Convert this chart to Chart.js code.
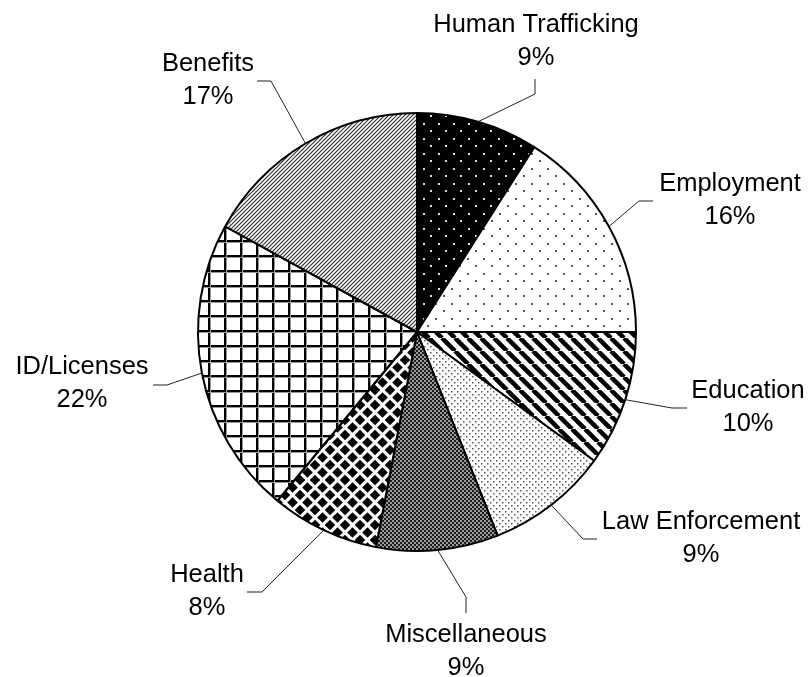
<!DOCTYPE html>
<html>
<head>
<meta charset="utf-8">
<script src="https://cdn.jsdelivr.net/npm/chart.js@4"></script>
<style>
  html, body { margin: 0; padding: 0; background: #fff; }
  #wrap { width: 808px; height: 677px; }
</style>
</head>
<body>
<div id="wrap"><canvas id="pie" width="808" height="677"></canvas></div>
<script>
// --- dane wykresu ---
const categories = ['Human Trafficking', 'Employment', 'Education', 'Law Enforcement',
                    'Miscellaneous', 'Health', 'ID/Licenses', 'Benefits'];
const shares = [9, 16, 10, 9, 9, 8, 22, 17];
const shareLabels = ['9%', '16%', '10%', '9%', '9%', '8%', '22%', '17%'];

// położenie opisów względem środka koła: [kolanoX, kolanoY, koniecX, koniecY, tekstX, linia bazowa tekstu]
const labelLayout = [
    [118, -238, 118, -253, 119, -300],
    [222, -131, 236, -131, 313, -141],
    [255, 76, 270, 76, 331, 66],
    [166, 207, 180, 207, 284, 197],
    [49, 265, 49, 281, 49, 310],
    [-155, 260, -170, 260, -210, 250],
    [-250, 53, -264, 53, -335, 42],
    [-146, -251, -160, -251, -209, -261]
];

const canvas = document.getElementById('pie');
const ctx = canvas.getContext('2d');

function makePattern(w, h, draw) {
    const c = document.createElement('canvas');
    c.width = w;
    c.height = h;
    const g = c.getContext('2d');
    g.fillStyle = '#fff';
    g.fillRect(0, 0, w, h);
    draw(g, w, h);
    return ctx.createPattern(c, 'repeat');
}

function diamond(g, cx, cy, r) {
    g.beginPath();
    g.moveTo(cx, cy - r);
    g.lineTo(cx + r, cy);
    g.lineTo(cx, cy + r);
    g.lineTo(cx - r, cy);
    g.closePath();
    g.fill();
}

// Wzory wypełnienia (czarno-białe jak w oryginale)
const patterns = [
    makePattern(15, 15, g => { // czarne tło, białe kropki
        g.fillStyle = '#000'; g.fillRect(0, 0, 15, 15);
        g.fillStyle = '#ddd'; g.fillRect(3, 3, 2, 2); g.fillRect(10, 10, 2, 2);
    }),
    makePattern(16, 15, g => { // rzadkie szare kropki
        g.fillStyle = '#555'; g.fillRect(3, 3, 2, 2); g.fillRect(11, 10, 2, 2);
    }),
    makePattern(13, 13, g => { // szerokie ukośne pasy
        g.strokeStyle = '#000'; g.lineWidth = 4.5;
        g.beginPath();
        [-13, 0, 13].forEach(k => { g.moveTo(k, 0); g.lineTo(k + 13, 13); });
        g.stroke();
    }),
    makePattern(6, 6, g => { // gęste kropki
        g.fillStyle = '#555';
        g.fillRect(1, 1, 1.5, 1.5); g.fillRect(4, 4, 1.5, 1.5);
    }),
    makePattern(4, 4, g => { // ciemna kratka
        g.fillStyle = '#1c1c1c'; g.fillRect(0, 0, 4, 4);
        g.fillStyle = '#9a9a9a'; g.fillRect(0, 0, 2, 2); g.fillRect(2, 2, 2, 2);
    }),
    makePattern(15, 15, g => { // duże romby
        g.fillStyle = '#000';
        diamond(g, 7.5, 7.5, 5.3);
        [[0, 0], [15, 0], [0, 15], [15, 15]].forEach(([x, y]) => diamond(g, x, y, 5.3));
    }),
    makePattern(16, 15, g => { // siatka
        g.fillStyle = '#000'; g.fillRect(0, 0, 2, 15); g.fillRect(0, 0, 16, 2);
        g.fillStyle = '#999'; g.fillRect(2, 0, 1, 15); g.fillRect(0, 2, 16, 1);
    }),
    makePattern(4, 4, g => { // drobne ukośne linie
        g.strokeStyle = '#333'; g.lineWidth = 1.2;
        g.beginPath();
        g.moveTo(0, 4); g.lineTo(4, 0);
        g.moveTo(-1, 1); g.lineTo(1, -1);
        g.moveTo(3, 5); g.lineTo(5, 3);
        g.stroke();
    })
];

// Etykiety z liniami odniesienia
const leaderLabels = {
    id: 'leaderLabels',
    afterDatasetsDraw(chart) {
        const c = chart.ctx;
        const meta = chart.getDatasetMeta(0);
        c.save();
        c.font = '25.5px "Liberation Sans", Arial, sans-serif';
        c.textAlign = 'center';
        c.textBaseline = 'alphabetic';
        meta.data.forEach((arc, i) => {
            const { x, y, startAngle, endAngle, outerRadius } =
                arc.getProps(['x', 'y', 'startAngle', 'endAngle', 'outerRadius'], true);
            const mid = (startAngle + endAngle) / 2;
            const [ex, ey, kx, ky, tx, ty] = labelLayout[i];
            c.strokeStyle = '#222';
            c.lineWidth = 1;
            c.beginPath();
            c.moveTo(x + Math.cos(mid) * outerRadius, y + Math.sin(mid) * outerRadius);
            c.lineTo(x + ex, y + ey);
            c.lineTo(x + kx, y + ky);
            c.stroke();
            c.fillStyle = '#000';
            c.fillText(categories[i], x + tx, y + ty);
            c.fillText(shareLabels[i], x + tx, y + ty + 33);
        });
        c.restore();
    }
};

new Chart(ctx, {
    type: 'pie',
    data: {
        labels: categories,
        datasets: [{
            data: shares,
            backgroundColor: patterns,
            borderColor: '#000',
            borderWidth: 2
        }]
    },
    options: {
        responsive: false,
        animation: false,
        events: [],
        layout: { padding: { left: 197, right: 171, top: 112, bottom: 125 } },
        plugins: {
            legend: { display: false },
            tooltip: { enabled: false }
        }
    },
    plugins: [leaderLabels]
});
</script>
</body>
</html>
